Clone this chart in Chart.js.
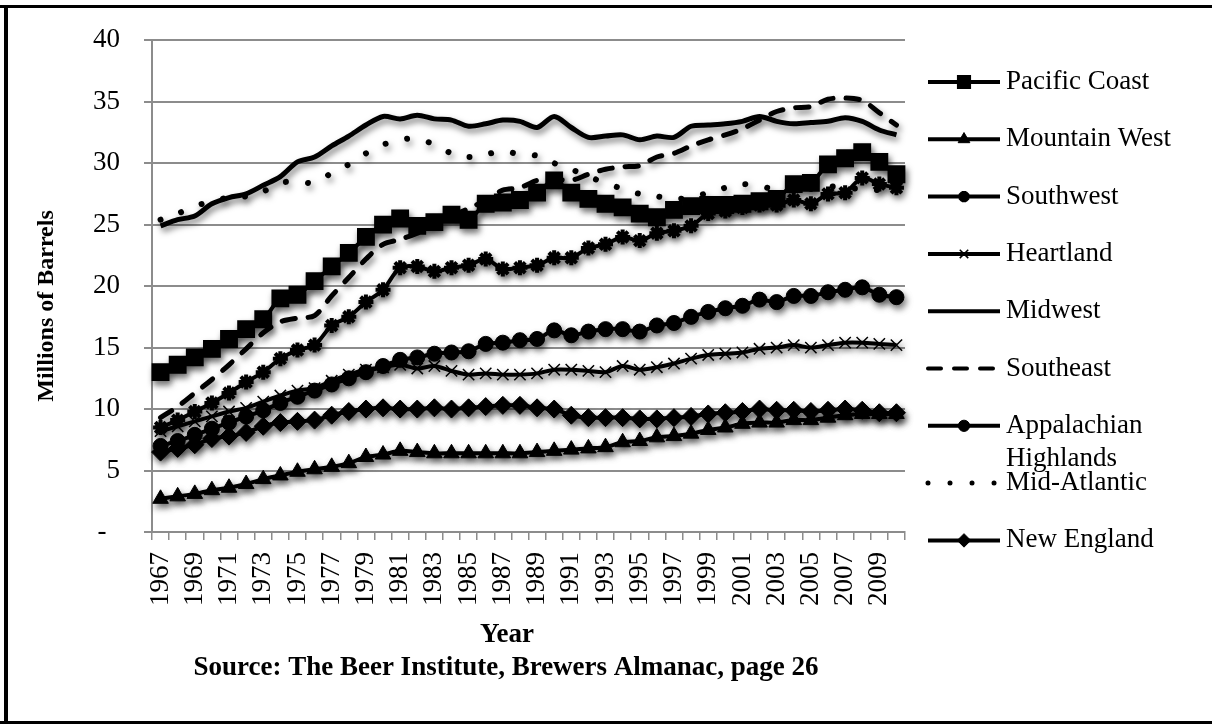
<!DOCTYPE html>
<html>
<head>
<meta charset="utf-8">
<title>Beer shipments by region</title>
<script src="https://cdn.jsdelivr.net/npm/chart.js@4.4.1/dist/chart.umd.min.js"></script>
<style>
  html, body { margin: 0; padding: 0; background: #fff; }
  #regions { display: block; }
</style>
</head>
<body>
<canvas id="regions" width="1212" height="724"></canvas>
<script>
// categories
const years = ['1967','1968','1969','1970','1971','1972','1973','1974','1975','1976',
               '1977','1978','1979','1980','1981','1982','1983','1984','1985','1986',
               '1987','1988','1989','1990','1991','1992','1993','1994','1995','1996',
               '1997','1998','1999','2000','2001','2002','2003','2004','2005','2006',
               '2007','2008','2009','2010'];

const regions = ['Pacific Coast', 'Mountain West', 'Southwest', 'Heartland', 'Midwest',
                 'Southeast', 'Appalachian Highlands', 'Mid-Atlantic', 'New England'];

// millions of barrels
const pacificCoast = [13.0, 13.6, 14.2, 14.9, 15.7, 16.5, 17.3, 19.0, 19.3, 20.4,
                      21.6, 22.7, 24.0, 25.0, 25.5, 24.9, 25.2, 25.8, 25.4, 26.7,
                      26.8, 27.0, 27.6, 28.6, 27.6, 27.1, 26.7, 26.4, 25.9, 25.6,
                      26.2, 26.5, 26.6, 26.6, 26.7, 26.9, 27.1, 28.3, 28.4, 29.9,
                      30.4, 30.9, 30.1, 29.1];
const mountainWest = [2.7, 2.9, 3.1, 3.4, 3.6, 3.9, 4.3, 4.6, 4.9, 5.1,
                      5.3, 5.6, 6.1, 6.3, 6.6, 6.5, 6.4, 6.4, 6.4, 6.4,
                      6.4, 6.4, 6.5, 6.6, 6.7, 6.8, 6.9, 7.3, 7.4, 7.7,
                      7.8, 8.0, 8.3, 8.5, 8.8, 8.9, 8.9, 9.1, 9.1, 9.3,
                      9.5, 9.6, 9.6, 9.6];
const southwest = [8.5, 9.1, 9.8, 10.5, 11.3, 12.2, 13.0, 14.1, 14.8, 15.2,
                   16.8, 17.5, 18.7, 19.7, 21.5, 21.6, 21.2, 21.5, 21.7, 22.2,
                   21.4, 21.5, 21.7, 22.3, 22.3, 23.1, 23.4, 24.0, 23.7, 24.3,
                   24.5, 24.9, 25.9, 26.1, 26.4, 26.6, 26.6, 27.0, 26.7, 27.5,
                   27.6, 28.8, 28.3, 28.0];
const heartland = [8.2, 8.6, 9.0, 9.4, 9.8, 10.1, 10.6, 11.1, 11.5, 11.7,
                   12.3, 12.8, 13.2, 13.4, 13.6, 13.3, 13.5, 13.1, 12.8, 12.9,
                   12.8, 12.8, 12.9, 13.2, 13.2, 13.1, 13.0, 13.5, 13.2, 13.4,
                   13.7, 14.1, 14.4, 14.5, 14.6, 14.9, 15.0, 15.2, 15.0, 15.2,
                   15.4, 15.4, 15.3, 15.2];
const midwest = [24.9, 25.4, 25.7, 26.7, 27.2, 27.5, 28.2, 28.9, 30.1, 30.5,
                 31.4, 32.2, 33.1, 33.8, 33.6, 33.9, 33.6, 33.5, 33.0, 33.2,
                 33.5, 33.4, 32.9, 33.8, 32.9, 32.1, 32.2, 32.3, 31.9, 32.2,
                 32.1, 33.0, 33.1, 33.2, 33.4, 33.8, 33.4, 33.2, 33.3, 33.4,
                 33.7, 33.4, 32.7, 32.3];
const southeast = [9.3, 10.2, 11.3, 12.4, 13.6, 14.9, 16.2, 17.1, 17.4, 17.6,
                   19.2, 20.7, 22.2, 23.4, 23.8, 24.3, 25.0, 25.7, 26.3, 27.0,
                   27.8, 28.0, 28.6, 28.7, 28.6, 29.1, 29.5, 29.7, 29.8, 30.5,
                   30.8, 31.4, 31.9, 32.3, 32.8, 33.5, 34.2, 34.5, 34.6, 35.2,
                   35.3, 35.1, 34.1, 33.1];
const appalachian = [7.0, 7.4, 7.9, 8.4, 8.9, 9.4, 9.9, 10.5, 11.0, 11.5,
                     12.0, 12.5, 13.0, 13.5, 14.0, 14.2, 14.5, 14.6, 14.7, 15.3,
                     15.4, 15.6, 15.7, 16.4, 16.0, 16.3, 16.5, 16.5, 16.3, 16.8,
                     17.0, 17.5, 17.9, 18.2, 18.4, 18.9, 18.7, 19.2, 19.2, 19.5,
                     19.7, 19.9, 19.3, 19.1];
const midAtlantic = [25.4, 25.9, 26.5, 26.9, 27.2, 27.3, 27.7, 28.4, 28.5, 28.4,
                     29.2, 29.9, 30.8, 31.5, 31.9, 32.0, 31.5, 30.8, 30.5, 30.7,
                     31.0, 30.7, 30.6, 30.0, 29.5, 28.9, 28.4, 27.9, 27.5, 27.3,
                     27.1, 27.2, 27.6, 28.0, 28.3, 28.1, 27.9, 27.8, 27.9, 28.1,
                     28.0, 27.9, 27.8, 27.7];
const newEngland = [6.5, 6.8, 7.1, 7.6, 7.8, 8.1, 8.6, 8.9, 9.0, 9.1,
                    9.5, 9.8, 10.0, 10.1, 10.0, 10.0, 10.1, 10.0, 10.1, 10.2,
                    10.3, 10.3, 10.1, 10.0, 9.5, 9.3, 9.3, 9.3, 9.2, 9.2,
                    9.3, 9.4, 9.6, 9.7, 9.8, 10.0, 9.9, 9.9, 9.8, 9.9,
                    10.0, 9.9, 9.7, 9.7];

const yTicks = [0, 5, 10, 15, 20, 25, 30, 35, 40];

const FONT = '"Liberation Serif", "DejaVu Serif", serif';
const GRID = '#8c8c8c';

function series(label, values, extra) {
  return Object.assign({
    label: label,
    data: values,
    borderColor: '#000',
    backgroundColor: '#000',
    pointBackgroundColor: '#000',
    pointBorderColor: '#000',
    borderWidth: 4,
    pointBorderWidth: 1,
    pointRadius: 0,
    pointHoverRadius: 0,
    fill: false
  }, extra);
}

const datasets = [
  series(regions[0], pacificCoast, { pointStyle: 'rect', pointRadius: 10.5, pointBorderWidth: 3 }),
  series(regions[1], mountainWest, { pointStyle: 'triangle', pointRadius: 9, pointBorderWidth: 1 }),
  series(regions[2], southwest, { pointStyle: 'star', pointRadius: 7.5, pointBorderWidth: 4 }),
  series(regions[3], heartland, { pointStyle: 'crossRot', pointRadius: 8, pointBorderWidth: 1.5 }),
  series(regions[4], midwest, { borderWidth: 5 }),
  series(regions[5], southeast, { borderWidth: 5, borderDash: [13, 13], borderCapStyle: 'round' }),
  series(regions[6], appalachian, { pointStyle: 'circle', pointRadius: 7.5 }),
  series(regions[7], midAtlantic, { borderWidth: 6, borderDash: [0.01, 22], borderCapStyle: 'round' }),
  series(regions[8], newEngland, { pointStyle: 'rectRot', pointRadius: 9 })
];

// drop shadow under the lines, like the original
const shadowPlugin = {
  id: 'shadow',
  beforeDatasetsDraw(chart) {
    const c = chart.ctx;
    c.save();
    c.shadowColor = 'rgba(0,0,0,0.5)';
    c.shadowBlur = 6;
    c.shadowOffsetX = 2;
    c.shadowOffsetY = 4;
  },
  afterDatasetsDraw(chart) {
    chart.ctx.restore();
  }
};

function wrapText(c, text, maxWidth) {
  const words = text.split(' ');
  const lines = [];
  let line = '';
  words.forEach(w => {
    const test = line ? line + ' ' + w : w;
    if (line && c.measureText(test).width > maxWidth) {
      lines.push(line);
      line = w;
    } else {
      line = test;
    }
  });
  lines.push(line);
  return lines;
}

const decorPlugin = {
  id: 'decor',
  beforeDraw(chart) {
    const c = chart.ctx;
    c.save();
    c.fillStyle = '#fff';
    c.fillRect(0, 0, chart.width, chart.height);
    c.restore();
  },
  afterDraw(chart) {
    const c = chart.ctx;
    c.save();

    // frame (top, left, bottom)
    c.fillStyle = '#000';
    c.fillRect(0, 5, chart.width, 3);
    c.fillRect(4, 5, 4, chart.height - 5);
    c.fillRect(0, 721, chart.width, 3);

    // axis titles
    c.fillStyle = '#000';
    c.textAlign = 'center';
    c.textBaseline = 'middle';
    c.font = 'bold 27px ' + FONT;
    c.fillText('Year', 507, 635);
    c.fillText('Source: The Beer Institute, Brewers Almanac, page 26', 506, 668);

    c.save();
    c.translate(47, 306);
    c.rotate(-Math.PI / 2);
    c.font = 'bold 24px ' + FONT;
    c.fillText('Millions of Barrels', 0, 0);
    c.restore();

    // legend: line + marker, like the original
    c.font = '27px ' + FONT;
    c.textAlign = 'left';
    chart.data.datasets.forEach((ds, k) => {
      const y = 82 + 57.3 * k;
      c.save();
      c.strokeStyle = '#000';
      c.fillStyle = '#000';
      c.lineWidth = ds.borderDash ? ds.borderWidth - 1 : 4;
      c.lineCap = ds.borderCapStyle || 'butt';
      c.setLineDash(ds.borderDash || []);
      c.beginPath();
      c.moveTo(928, y);
      c.lineTo(1000, y);
      c.stroke();
      c.setLineDash([]);
      if (ds.pointRadius > 0) {
        c.lineWidth = ds.pointBorderWidth;
        Chart.helpers.drawPoint(c, {
          pointStyle: ds.pointStyle,
          radius: ds.pointRadius * 0.75,
          rotation: 0,
          borderWidth: ds.pointBorderWidth
        }, 964, y);
      }
      c.restore();
      const lines = wrapText(c, ds.label, 195);
      lines.forEach((t, j) => c.fillText(t, 1006, y + j * 33));
    });

    c.restore();
  }
};

try {
  const ctx = document.getElementById('regions').getContext('2d');
  const myChart = new Chart(ctx, {
    type: 'line',
    data: { labels: years, datasets: datasets },
    options: {
      responsive: false,
      animation: false,
      devicePixelRatio: 1,
      layout: { padding: { top: 35, right: 307, bottom: 0, left: 0 } },
      elements: { line: { tension: 0.3 } },
      plugins: {
        legend: { display: false },
        tooltip: { enabled: false }
      },
      scales: {
        x: {
          offset: true,
          grid: { offset: true, drawOnChartArea: false, tickLength: 8, color: GRID, lineWidth: 1.5 },
          border: { color: GRID, width: 2 },
          ticks: {
            autoSkip: false,
            maxRotation: 90,
            minRotation: 90,
            padding: 12,
            color: '#000',
            font: { family: FONT, size: 27 },
            callback: function (v, i) { return i % 2 === 0 ? this.getLabelForValue(v) : ''; }
          },
          afterFit: s => { s.height = 192; }
        },
        y: {
          min: yTicks[0],
          max: yTicks[yTicks.length - 1],
          afterBuildTicks: s => { s.ticks = yTicks.map(v => ({ value: v })); },
          grid: { color: GRID, lineWidth: 2, tickLength: 8 },
          border: { color: GRID, width: 2 },
          ticks: {
            padding: 24,
            color: '#000',
            font: { family: FONT, size: 27 },
            callback: v => (v === 0 ? '-  ' : v)
          },
          afterFit: s => { s.width = 152; }
        }
      }
    },
    plugins: [decorPlugin, shadowPlugin]
  });
} catch (e) {
  console.log('chart error', e);
}
</script>
</body>
</html>
